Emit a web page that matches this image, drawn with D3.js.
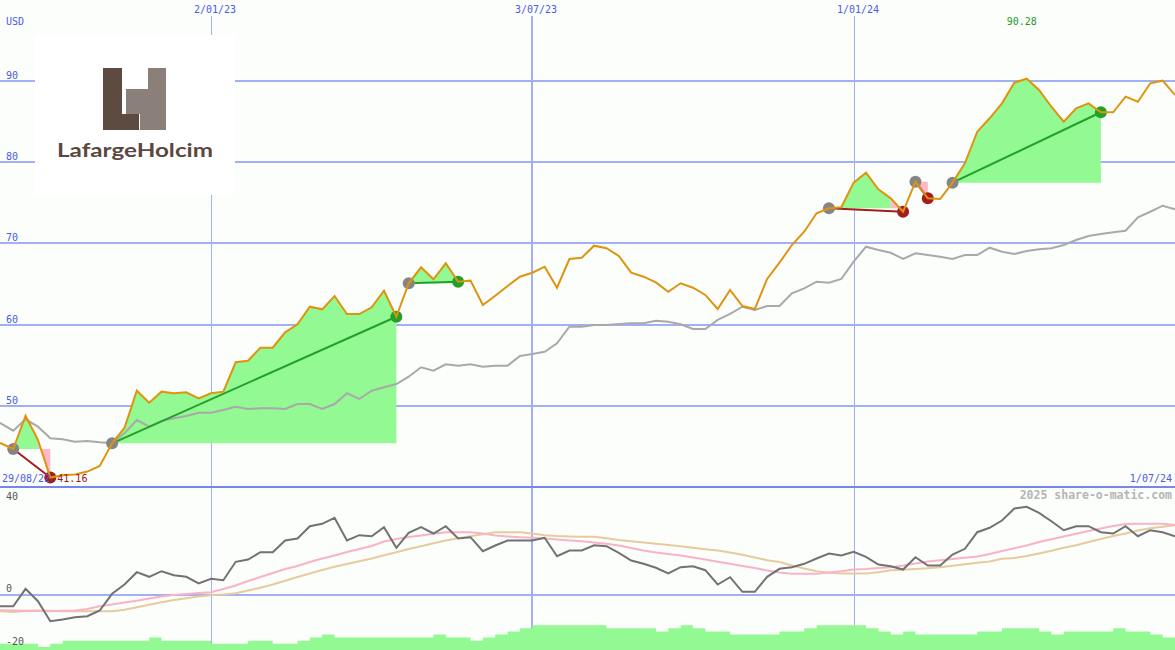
<!DOCTYPE html>
<html><head><meta charset="utf-8">
<script src="https://cdn.jsdelivr.net/npm/d3@7"></script>
<style>html,body{margin:0;padding:0;background:#fcfefc;}svg{display:block}</style>
</head><body>
<svg id="chart" width="1175" height="650"></svg>
<script>
// ---------------- data ----------------
const startDate = "2022-08-29";
const endDate = "2024-07-01";
const tickDates = ["2023-01-02", "2023-07-03", "2024-01-01"];
const priceTicks = [50, 60, 70, 80, 90];
const oscTicks = [40, 0, -20];
const currency = "USD";
const watermark = "2025 share-o-matic.com";

// weekly close (USD)
const price = [45.6, 45.38, 44.68, 48.78, 45.79, 41.16, 41.45, 41.55, 41.9, 42.6,
 45.38, 47.27, 51.86, 50.38, 51.74, 51.54, 51.66, 50.92, 51.54, 51.74,
 55.36, 55.55, 57.16, 57.16, 59.05, 60.04, 62.2, 61.88, 63.52, 61.3,
 61.3, 62.13, 64.17, 60.97, 65.09, 67.06, 65.58, 67.55, 65.28, 65.41,
 62.41, 63.56, 64.75, 65.9, 66.39, 67.13, 64.54, 68.08, 68.24, 69.72,
 69.4, 68.45, 66.39, 65.9, 65.2, 64.05, 65.09, 64.54, 63.65, 61.92,
 64.26, 62.29, 61.92, 65.62, 67.62, 69.8, 71.44, 73.71, 74.32, 74.45,
 77.48, 78.71, 76.66, 75.55, 73.9, 77.6, 75.55, 75.47, 77.48, 79.86,
 83.76, 85.41, 87.25, 89.79, 90.28, 88.89, 86.83, 84.99, 86.64, 87.25,
 86.15, 86.15, 88.07, 87.45, 89.72, 90.04, 88.28];

// benchmark (rebased)
const benchmark = [48.25, 47.84, 46.93, 48.34, 47.43, 46.0, 45.87, 45.58, 45.67, 45.5,
 45.38, 46.61, 48.25, 47.43, 48.13, 48.46, 48.74, 49.15, 49.15, 49.48,
 49.89, 49.61, 49.69, 49.69, 49.61, 50.22, 50.22, 49.61, 50.22, 51.54,
 50.84, 51.86, 52.28, 52.68, 53.58, 54.74, 54.32, 55.11, 54.94, 55.11,
 54.82, 54.94, 54.94, 56.13, 56.38, 56.66, 57.7, 59.74, 59.74, 59.95,
 59.95, 60.07, 60.16, 60.16, 60.48, 60.36, 60.04, 59.46, 59.46, 60.57,
 61.31, 62.2, 61.8, 62.29, 62.29, 63.85, 64.47, 65.28, 65.16, 65.62,
 67.75, 69.59, 69.19, 68.85, 68.08, 68.78, 68.57, 68.36, 68.08, 68.57,
 68.57, 69.47, 68.98, 68.69, 69.06, 69.27, 69.4, 69.8, 70.42, 70.91,
 71.16, 71.37, 71.56, 73.21, 73.9, 74.64, 74.2];

// lower panel oscillator
const oscillator = [-4.4, -4.42, -4.42, 2.15, -2.53, -10.08, -9.43, -8.57, -8.19, -6.04,
 0.26, 3.77, 8.42, 6.68, 8.79, 7.28, 6.68, 4.15, 5.92, 5.4,
 12.34, 13.21, 15.96, 15.96, 20.38, 21.13, 25.77, 26.68, 28.94, 20.38,
 22.38, 22.0, 25.4, 17.62, 23.28, 25.4, 23.02, 25.77, 21.13, 21.62,
 16.34, 18.49, 20.38, 20.38, 20.38, 21.4, 14.45, 16.6, 16.6, 18.6,
 18.23, 15.74, 12.83, 11.58, 10.08, 7.92, 10.3, 10.68, 9.17, 3.77,
 6.53, 1.02, 1.02, 6.68, 9.7, 10.3, 11.58, 13.58, 15.47, 14.72,
 16.11, 14.23, 11.32, 10.68, 9.43, 14.08, 10.94, 10.94, 15.09, 17.25,
 23.51, 25.17, 27.92, 32.45, 33.09, 30.83, 27.66, 24.26, 25.77, 25.77,
 23.51, 23.02, 25.77, 22.0, 24.26, 23.51, 22.0];

const maFast = [-5.9, -5.92, -6.04, -6.15, -6.23, -6.3, -6.15, -6.04, -5.47, -4.42,
 -3.77, -3.02, -2.34, -1.51, -0.75, -0.19, 0.19, 0.57, 0.87, 2.08,
 3.4, 5.09, 6.6, 8.11, 9.62, 10.75, 12.26, 13.58, 14.72, 16.04,
 17.17, 18.3, 20.0, 20.94, 21.7, 22.26, 22.91, 23.51, 23.51, 23.51,
 23.02, 22.26, 21.89, 21.62, 21.4, 21.13, 20.75, 20.38, 20.11, 19.62,
 19.13, 18.49, 17.55, 16.6, 15.85, 15.28, 14.72, 13.96, 13.21, 12.34,
 11.58, 10.75, 10.0, 9.06, 8.3, 7.81, 7.81, 7.81, 8.3, 8.79,
 9.43, 9.62, 10.0, 10.3, 10.94, 11.7, 12.45, 12.94, 13.4, 13.85,
 14.34, 15.28, 16.42, 17.47, 18.49, 19.81, 20.87, 21.89, 22.91, 23.96,
 24.91, 25.85, 26.6, 26.68, 26.68, 26.68, 26.23];

const maSlow = [-6.23, -6.3, -6.6, -6.23, -6.04, -6.15, -6.3, -6.3, -6.3, -6.3,
 -6.3, -5.77, -4.79, -3.89, -2.91, -2.08, -1.4, -0.75, -0.26, 0,
 0.45, 1.51, 2.57, 3.77, 5.21, 6.6, 7.92, 9.25, 10.49, 11.51,
 12.53, 13.58, 14.83, 15.92, 17.17, 18.23, 19.32, 20.38, 21.25, 22.0,
 22.75, 23.47, 23.51, 23.51, 23.02, 22.38, 22.08, 21.89, 21.77, 21.77,
 21.25, 20.57, 20.08, 19.62, 19.13, 18.68, 18.23, 17.66, 17.09, 16.6,
 15.85, 14.98, 13.96, 12.91, 12.26, 10.94, 9.81, 8.79, 8.19, 7.92,
 7.92, 7.92, 8.42, 9.13, 9.36, 9.62, 9.92, 10.26, 10.87, 11.43,
 12.0, 12.45, 13.51, 13.77, 14.53, 15.47, 16.49, 17.62, 18.6, 19.81,
 20.94, 22.08, 23.02, 24.15, 25.02, 25.58, 26.11];

// weekly volume (millions, approx.)
const volume = [2, 2, 2, 2, 1, 2, 3, 3, 3, 3,
 3, 3, 3, 4, 3, 3, 3, 3, 2, 2,
 2, 3, 3, 2, 2, 3, 4, 5, 4, 4,
 4, 4, 4, 4, 4, 4, 5, 4, 4, 3,
 4, 5, 6, 7, 8, 8, 8, 8, 8, 8,
 7, 7, 7, 7, 6, 7, 8, 7, 6, 6,
 5, 5, 5, 5, 6, 6, 7, 8, 8, 8,
 8, 7, 6, 5, 6, 5, 5, 5, 5, 5,
 6, 6, 7, 7, 7, 6, 5, 6, 6, 6,
 6, 7, 6, 6, 5, 4, 4];

// trades (week index of entry / exit)
const tradeEntry = [2, 10, 34, 68, 75, 78];
const tradeExit  = [5, 33, 38, 74, 76, 90];

// ---------------- drawing ----------------
const W = 1175, H = 650;
const svg = d3.select("#chart");
const parse = d3.utcParse("%Y-%m-%d");
const fmt = d3.utcFormat("%-d/%m/%y");
const t0 = parse(startDate), t1 = parse(endDate);
const dates = d3.utcMonday.range(t0, d3.utcDay.offset(t1, 1));

const x = d3.scaleUtc().domain([t0, t1]).range([-11.5, 1175]);
const y = d3.scaleLinear().domain([40, 90]).range([487, 81]);
const yo = d3.scaleLinear().domain([-20, 40]).range([647.5, 488.5]);
const yv = d3.scaleLinear().domain([0, 10]).range([650, 619]);

const GRID = "#a3aff3", BLUE = "#4b5ce6", MONO = "'DejaVu Sans Mono', monospace";

svg.append("rect").attr("width", W).attr("height", H).attr("fill", "#fcfefc");

const defs = svg.append("defs");
defs.append("clipPath").attr("id", "clipMain").append("rect").attr("x", 0).attr("y", 0).attr("width", W).attr("height", 486);
defs.append("clipPath").attr("id", "clipLow").append("rect").attr("x", 0).attr("y", 488).attr("width", W).attr("height", H - 488);

// grid
svg.append("g").selectAll("line").data(priceTicks).join("line")
  .attr("x1", 0).attr("x2", W)
  .attr("y1", d => Math.round(y(d))).attr("y2", d => Math.round(y(d)))
  .attr("stroke", GRID).attr("stroke-width", 2);
svg.append("line").attr("x1", 0).attr("x2", W).attr("y1", Math.round(yo(0)) - 0.5 + 0.5).attr("y2", Math.round(yo(0)))
  .attr("stroke", GRID).attr("stroke-width", 2);
const vt = tickDates.map(parse);
svg.append("g").selectAll("line").data(vt).join("line")
  .attr("x1", d => d.getUTCMonth() === 0 ? Math.round(x(d)) + 0.5 : Math.round(x(d)))
  .attr("x2", d => d.getUTCMonth() === 0 ? Math.round(x(d)) + 0.5 : Math.round(x(d)))
  .attr("y1", 16).attr("y2", H)
  .attr("stroke", GRID).attr("stroke-width", d => d.getUTCMonth() === 0 ? 1 : 2);

// panel separator
svg.append("line").attr("x1", 0).attr("x2", W).attr("y1", y(40)).attr("y2", y(40))
  .attr("stroke", "#7686ef").attr("stroke-width", 2);

// logo box
const logo = svg.append("g");
logo.append("rect").attr("x", 35).attr("y", 35).attr("width", 200).attr("height", 160).attr("fill", "#ffffff");
const dark = "#5d4b41", light = "#8b7f7a";
logo.append("rect").attr("x", 103).attr("y", 68).attr("width", 19).attr("height", 62).attr("fill", dark);
logo.append("rect").attr("x", 103).attr("y", 114).attr("width", 36).attr("height", 16).attr("fill", dark);
logo.append("rect").attr("x", 148).attr("y", 68).attr("width", 18).attr("height", 62).attr("fill", light);
logo.append("rect").attr("x", 126).attr("y", 89).attr("width", 23).attr("height", 25).attr("fill", light);
logo.append("rect").attr("x", 140).attr("y", 114).attr("width", 9).attr("height", 16).attr("fill", light);
logo.append("text").attr("x", 57).attr("y", 157).attr("font-family", "Lato, 'Open Sans', sans-serif")
  .attr("font-weight", 700).attr("font-size", 18.5).attr("fill", "#5a4840")
  .attr("textLength", 156).attr("lengthAdjust", "spacingAndGlyphs").text("LafargeHolcim");

// ----- lower panel -----
const low = svg.append("g").attr("clip-path", "url(#clipLow)");
const volData = volume.map((v, i) => ({d: dates[i], v}));
volData.push({d: d3.utcWeek.offset(dates[dates.length - 1], 1), v: volume[volume.length - 1]});
low.append("path").datum(volData)
  .attr("d", d3.area().curve(d3.curveStepAfter).x(p => x(p.d)).y0(H).y1(p => yv(p.v)))
  .attr("fill", "#93f993");
const oLine = arr => d3.line().x((v, i) => x(dates[i])).y(v => yo(v))(arr);
low.append("path").attr("d", oLine(maSlow)).attr("fill", "none").attr("stroke", "#e6cb9c").attr("stroke-width", 2);
low.append("path").attr("d", oLine(maFast)).attr("fill", "none").attr("stroke", "#f9b3c6").attr("stroke-width", 2);
low.append("path").attr("d", oLine(oscillator)).attr("fill", "none").attr("stroke", "#727272").attr("stroke-width", 2);

// ----- main panel -----
const main = svg.append("g").attr("clip-path", "url(#clipMain)");
const trades = tradeEntry.map((e, j) => {
  const k = tradeExit[j];
  return {e, k, base: price[e], win: price[k] > price[e]};
});
const idxRange = (a, b) => d3.range(a, b + 1);
const fillArea = base => d3.area().x(i => x(dates[i])).y0(y(base)).y1(i => y(price[i]));
trades.forEach(t => {
  const last = t.win ? t.k : t.k - 1;
  if (last > t.e) {
    main.append("path").attr("d", fillArea(t.base)(idxRange(t.e, last))).attr("fill", "#93f993");
  }
  if (!t.win) {
    main.append("path").attr("d", fillArea(t.base)([t.k - 1, t.k])).attr("fill", "#ffb8c8");
  }
});
const pLine = arr => d3.line().x((v, i) => x(dates[i])).y(v => y(v))(arr);
main.append("path").attr("d", pLine(benchmark)).attr("fill", "none").attr("stroke", "#a9a9a9").attr("stroke-width", 2);
trades.forEach(t => {
  main.append("line")
    .attr("x1", x(dates[t.e])).attr("y1", y(price[t.e]))
    .attr("x2", x(dates[t.k])).attr("y2", y(price[t.k]))
    .attr("stroke", t.win ? "#22a02a" : "#a31d1d").attr("stroke-width", 2);
});
trades.forEach(t => {
  main.append("circle").attr("cx", x(dates[t.e])).attr("cy", y(price[t.e])).attr("r", 6).attr("fill", "#858585");
  main.append("circle").attr("cx", x(dates[t.k])).attr("cy", y(price[t.k])).attr("r", 6)
    .attr("fill", t.win ? "#22a02a" : "#a31d1d");
});
main.append("path").attr("d", pLine(price)).attr("fill", "none").attr("stroke", "#de940e").attr("stroke-width", 2);

// ----- labels -----
const lab = svg.append("g").attr("font-family", MONO).attr("font-size", 10);
lab.append("text").attr("x", 6).attr("y", 25).attr("fill", BLUE).text(currency);
lab.selectAll(".py").data(priceTicks).join("text").attr("x", 6).attr("y", d => Math.round(y(d)) - 2.5)
  .attr("fill", BLUE).text(d => d);
lab.selectAll(".tx").data(vt).join("text").attr("x", d => Math.round(x(d)) - 17).attr("y", 13)
  .attr("fill", BLUE).text(d => fmt(d));
lab.append("text").attr("x", 2).attr("y", 482).attr("fill", BLUE).text(fmt(t0));
lab.append("text").attr("x", 1172).attr("y", 482).attr("text-anchor", "end").attr("fill", BLUE).text(fmt(t1));
const iMin = d3.minIndex(price), iMax = d3.maxIndex(price);
lab.append("text").attr("x", x(dates[iMin]) + 7).attr("y", 482).attr("fill", "#a01818").text(price[iMin].toFixed(2));
lab.append("text").attr("x", x(dates[iMax]) - 5).attr("y", 25).attr("text-anchor", "middle").attr("fill", "#1f9a1f").text(price[iMax].toFixed(2));
lab.selectAll(".oy").data(oscTicks).join("text").attr("x", 6)
  .attr("y", d => yo(d) < 495 ? yo(d) + 11 : yo(d) - 2.5)
  .attr("fill", "#555555").text(d => d);
svg.append("text").attr("x", 1172).attr("y", 499).attr("text-anchor", "end")
  .attr("font-family", MONO).attr("font-size", 11.5).attr("font-weight", "bold")
  .attr("fill", "#b5b5b5").text(watermark);
</script>
</body></html>
